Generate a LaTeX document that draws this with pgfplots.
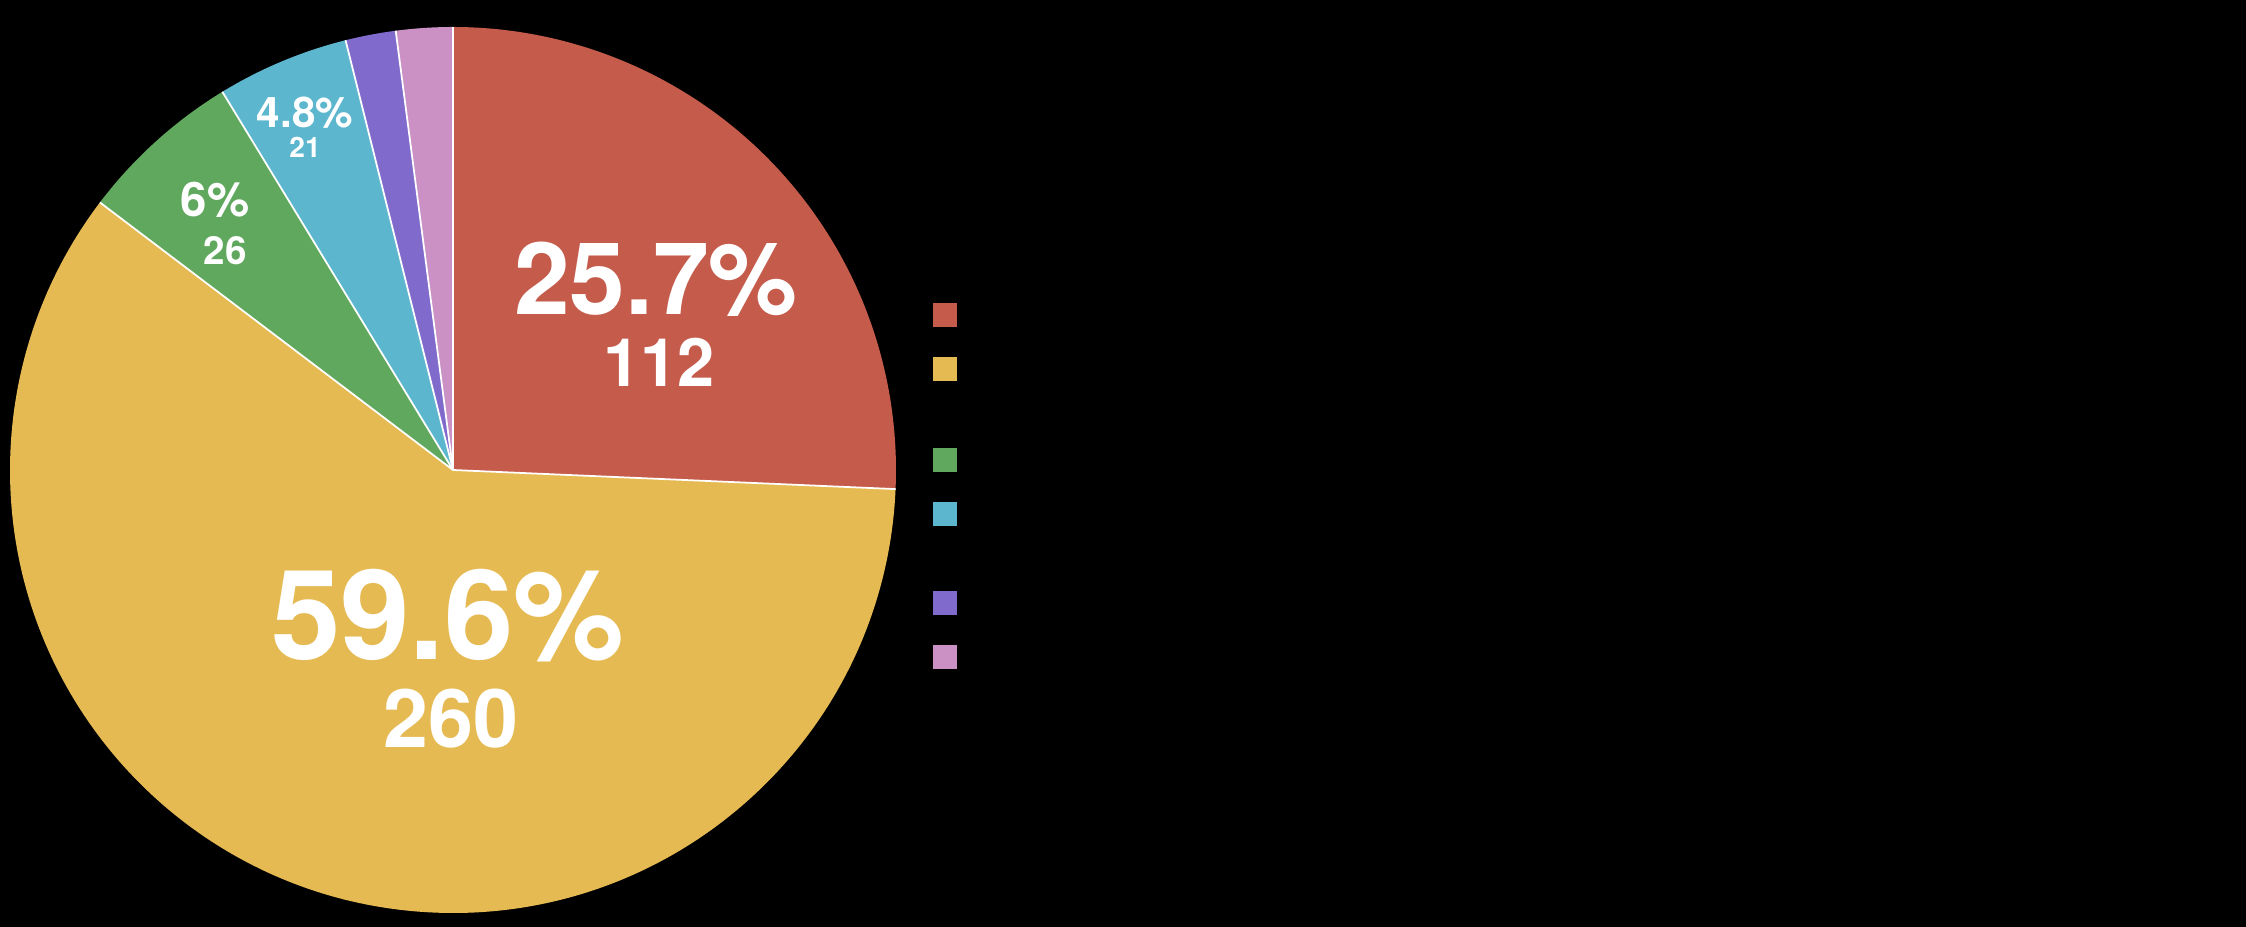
\documentclass[border=0pt]{standalone}
\usepackage{pgfplots}
\usepackage{pgfplotstable}
\pgfplotsset{compat=1.18}
\usepackage{fontspec}
\setmainfont{TeX Gyre Heros}

\definecolor{c0}{HTML}{C55B4B}
\definecolor{c1}{HTML}{E6BA52}
\definecolor{c2}{HTML}{60A85E}
\definecolor{c3}{HTML}{5BB6CE}
\definecolor{c4}{HTML}{806BCC}
\definecolor{c5}{HTML}{CB91C4}

% slices, clockwise from 12 o'clock
\pgfplotstableread{
v
112
260
26
21
8
9
}\piedata

\begin{document}%
\def\total{0}%
\pgfplotstableforeachcolumnelement{v}\of\piedata\as\val{%
  \pgfmathsetmacro\total{\total+\val}\xdef\total{\total}}%
\def\cum{0}%
\pgfplotstableforeachcolumnelement{v}\of\piedata\as\val{%
  \pgfmathsetmacro\sa{90-\cum/\total*360}%
  \pgfmathsetmacro\cum{\cum+\val}\xdef\cum{\cum}%
  \pgfmathsetmacro\ea{90-\cum/\total*360}%
  \expandafter\xdef\csname sa\pgfplotstablerow\endcsname{\sa}%
  \expandafter\xdef\csname ea\pgfplotstablerow\endcsname{\ea}}%
\begin{tikzpicture}
\def\cx{4.53}
\def\cy{4.56}
\def\R{4.43}
\begin{axis}[
  hide axis,
  scale only axis,
  x=1cm, y=1cm,
  xmin=0, xmax=22.46,
  ymin=0, ymax=9.26,
]
\fill[black] (axis cs:-1,-1) rectangle (axis cs:23.5,10.3);

\pgfplotsinvokeforeach{0,...,5}{
  \fill[c#1]
    (axis cs:\cx,\cy) -- ++(\csname sa#1\endcsname:\R)
    arc[start angle=\csname sa#1\endcsname, end angle=\csname ea#1\endcsname, radius=\R] -- cycle;
}
\pgfplotsinvokeforeach{0,...,5}{
  \draw[white, line width=0.5pt] (axis cs:\cx,\cy) -- ++(\csname sa#1\endcsname:\R);
}

% legend swatches (labels are black on black)
\addplot[only marks, mark=square*, mark size=0.11cm, c0] coordinates {(9.45,6.11)};
\addplot[only marks, mark=square*, mark size=0.11cm, c1] coordinates {(9.45,5.57)};
\addplot[only marks, mark=square*, mark size=0.11cm, c2] coordinates {(9.45,4.66)};
\addplot[only marks, mark=square*, mark size=0.11cm, c3] coordinates {(9.45,4.12)};
\addplot[only marks, mark=square*, mark size=0.11cm, c4] coordinates {(9.45,3.23)};
\addplot[only marks, mark=square*, mark size=0.11cm, c5] coordinates {(9.45,2.69)};

\node[white, font=\bfseries\fontsize{28.5}{28.5}\selectfont] at (axis cs:6.56,6.47) {25.7\%};
\node[white, font=\bfseries\fontsize{19}{19}\selectfont] at (axis cs:6.59,5.64) {112};
\node[white, font=\bfseries\fontsize{35.5}{35.5}\selectfont] at (axis cs:4.48,3.10) {59.6\%};
\node[white, font=\bfseries\fontsize{23}{23}\selectfont] at (axis cs:4.51,2.07) {260};
\node[white, font=\bfseries\fontsize{13.5}{13.5}\selectfont] at (axis cs:2.15,7.26) {6\%};
\node[white, font=\bfseries\fontsize{11}{11}\selectfont] at (axis cs:2.25,6.75) {26};
\node[white, font=\bfseries\fontsize{12}{12}\selectfont] at (axis cs:3.05,8.13) {4.8\%};
\node[white, font=\bfseries\fontsize{8}{8}\selectfont] at (axis cs:3.05,7.79) {21};
\end{axis}
\end{tikzpicture}%
\end{document}
